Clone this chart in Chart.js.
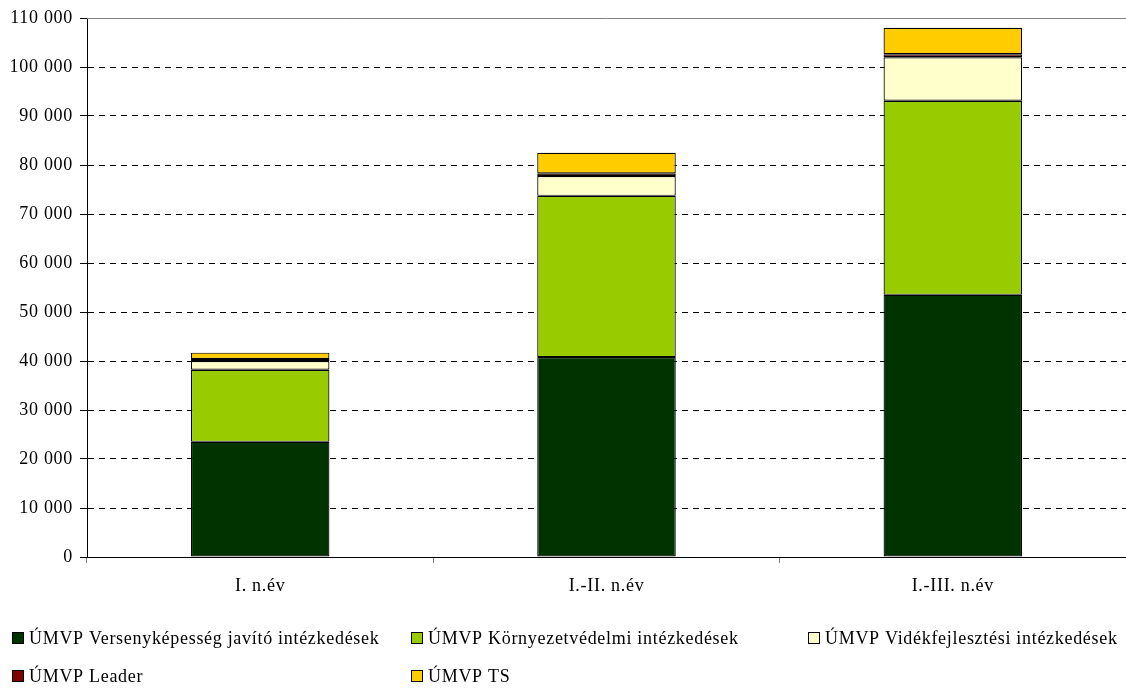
<!DOCTYPE html>
<html>
<head>
<meta charset="utf-8">
<script src="https://cdn.jsdelivr.net/npm/chart.js@4"></script>
<style>
  body { margin: 0; background: #fff; }
  #wrap { width: 1126px; height: 688px; }
</style>
</head>
<body>
<div id="wrap"><canvas id="myChart" width="1126" height="688"></canvas></div>
<script>
/* chart data */
const categories = ["I. n.év", "I.-II. n.év", "I.-III. n.év"];
const seriesNames = [
  "ÚMVP Versenyképesség javító intézkedések",
  "ÚMVP Környezetvédelmi intézkedések",
  "ÚMVP Vidékfejlesztési intézkedések",
  "ÚMVP Leader",
  "ÚMVP TS",
];
const versenykepesseg = [23500, 40800, 53500];
const kornyezetvedelmi = [14700, 32900, 39600];
const videkfejlesztesi = [1800, 4050, 8900];
const leader = [400, 550, 600];
const ts = [1300, 4200, 5400];
const yTicks = [0, 10000, 20000, 30000, 40000, 50000, 60000, 70000, 80000, 90000, 100000, 110000];

const colors = ["#003300", "#99CC00", "#FFFFCC", "#800000", "#FFCC00"];
const seriesData = [versenykepesseg, kornyezetvedelmi, videkfejlesztesi, leader, ts];
const FONT = "'Liberation Serif', 'Times New Roman', serif";
const SPACING = "0.7px";

/* wider text, to get closer to the Garamond look */
const spacingPlugin = {
  id: "spacing",
  beforeLayout(chart) { chart.ctx.letterSpacing = SPACING; },
  beforeDraw(chart) { chart.ctx.letterSpacing = SPACING; },
};

/* top border + legend in a 3 column grid */
const extrasPlugin = {
  id: "extras",
  afterDraw(chart) {
    const ctx = chart.ctx;
    const area = chart.chartArea;
    ctx.save();
    ctx.strokeStyle = "#808080";
    ctx.lineWidth = 1;
    ctx.beginPath();
    ctx.moveTo(area.left, area.top + 0.5);
    ctx.lineTo(area.right, area.top + 0.5);
    ctx.stroke();

    const cols = [12, 411, 808];
    const rows = [638, 676];
    ctx.font = "18px " + FONT;
    ctx.letterSpacing = SPACING;
    ctx.textBaseline = "middle";
    chart.data.datasets.forEach((ds, i) => {
      const x = cols[i % 3];
      const y = rows[Math.floor(i / 3)];
      ctx.fillStyle = ds.backgroundColor;
      ctx.fillRect(x, y - 6, 12, 12);
      ctx.strokeStyle = "#000";
      ctx.strokeRect(x + 0.5, y - 5.5, 11, 11);
      ctx.fillStyle = "#000";
      ctx.fillText(ds.label, x + 17, y + 1);
    });
    ctx.restore();
  },
};

document.addEventListener("DOMContentLoaded", () => {
  const ctx = document.getElementById("myChart");
  new Chart(ctx, {
    type: "bar",
    data: {
      labels: categories,
      datasets: seriesNames.map((name, i) => ({
        label: name,
        data: seriesData[i],
        backgroundColor: colors[i],
        borderColor: "#000",
        borderWidth: 1.2,
        borderSkipped: false,
        barPercentage: 0.4,
        categoryPercentage: 1,
      })),
    },
    options: {
      responsive: false,
      animation: false,
      layout: { padding: { top: 18, right: 0, bottom: 0, left: 0 } },
      plugins: {
        legend: { display: false },
        tooltip: { enabled: false },
      },
      scales: {
        x: {
          stacked: true,
          afterFit: (scale) => { scale.height = 131; },
          grid: {
            offset: true,
            drawOnChartArea: false,
            tickLength: 6,
            tickColor: "#808080",
          },
          border: { color: "#000", width: 1 },
          ticks: {
            color: "#000",
            padding: 12,
            font: { family: FONT, size: 18 },
          },
        },
        y: {
          stacked: true,
          min: 0,
          max: 110000,
          afterFit: (scale) => { scale.width = 87; },
          afterBuildTicks: (scale) => {
            scale.ticks = yTicks.map((v) => ({ value: v }));
          },
          grid: {
            color: (c) => (c.index === 0 || c.index === yTicks.length - 1 ? "rgba(0,0,0,0)" : "#000"),
            lineWidth: 1,
            tickLength: 7,
            tickColor: "#000",
          },
          border: { color: "#000", width: 1, dash: [6, 5] },
          ticks: {
            color: "#000",
            padding: 7,
            font: { family: FONT, size: 18 },
            callback: (v) => String(v).replace(/\B(?=(\d{3})+(?!\d))/g, " "),
          },
        },
      },
    },
    plugins: [spacingPlugin, extrasPlugin],
  });
});
</script>
</body>
</html>
